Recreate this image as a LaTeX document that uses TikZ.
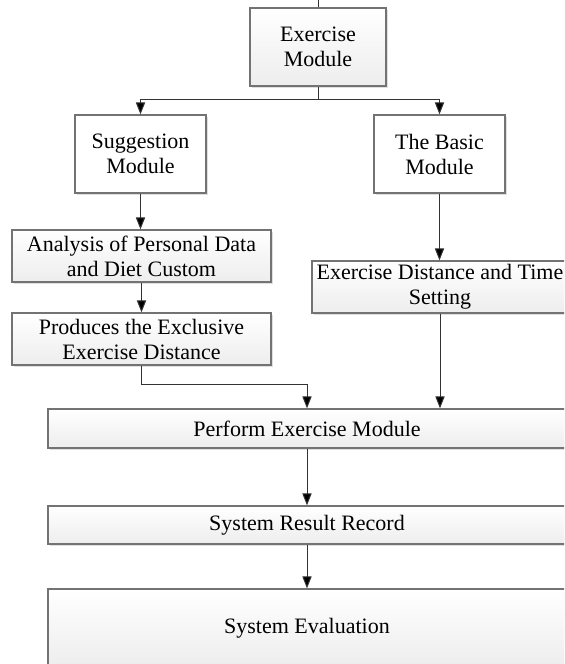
\documentclass[tikz,border=0pt]{standalone}
\usepackage{fontspec}
\setmainfont{Liberation Serif}
\usepackage{tikz}
\usetikzlibrary{arrows.meta,positioning,shadows}

\begin{document}
\begin{tikzpicture}[
    x=0.5pt, y=-0.5pt,
    modbox/.style={rectangle, draw=black!55, line width=0.6pt, inner sep=0pt, align=center,
      top color=white, bottom color=black!7,
      drop shadow={shadow xshift=1pt, shadow yshift=-1pt, opacity=0.25, fill=black!50},
      font=\fontsize{11pt}{12.5pt}\selectfont},
    plainbox/.style={modbox, top color=white, bottom color=white},
    line/.style={-{Triangle[length=6pt, width=4.6pt, fill=black]}, line width=0.5pt, black!80},
    conn/.style={line width=0.5pt, black!80},
  ]
  \useasboundingbox (0,0) rectangle (564,664);
  \clip (0,0) rectangle (564,664);
  % top row
  \node[modbox, minimum width=68pt, minimum height=39pt] (exer) at (318,47) {Exercise\\Module};
  \node[plainbox, minimum width=65.5pt, minimum height=39pt] (sugg) at (140.5,154) {Suggestion\\Module};
  \node[plainbox, minimum width=65.5pt, minimum height=39pt] (basic) at (439.5,154) {The Basic\\Module};
  % left column
  \node[modbox, minimum width=129.5pt, minimum height=26pt] (anal) at (141.5,256) {Analysis of Personal Data\\and Diet Custom};
  \node[modbox, minimum width=129.5pt, minimum height=26pt] (prod) at (141.5,339) {Produces the Exclusive\\Exercise Distance};
  % right column
  \node[modbox, minimum width=128pt, minimum height=26pt] (dist) at (440,287) {Exercise Distance and Time\\Setting};
  % bottom rows
  \node[modbox, minimum width=259pt, minimum height=19.5pt] (perf) at (307,428.5) {Perform Exercise Module};
  \node[modbox, minimum width=259pt, minimum height=19pt] (rec) at (307,525) {System Result Record};
  \node[modbox, minimum width=259pt, minimum height=39pt] (eval) at (307,628) {System Evaluation};

  \coordinate (top) at (318,0);
  \coordinate (split) at (318,99);
  \coordinate (bend) at (307,384);

  \draw[conn] (top) -- (exer.north);
  \draw[conn] (exer.south) -- (split);
  \draw[line] (split) -| (sugg.north);
  \draw[line] (split) -| (basic.north);
  \draw[line] (sugg.south) -- (sugg.south |- anal.north);
  \draw[line] (anal.south) -- (anal.south |- prod.north);
  \draw[line] (prod.south) |- (bend) -- (perf.north);
  \draw[line] (basic.south) -- (basic.south |- dist.north);
  \draw[line] (dist.south) -- (dist.south |- perf.north);
  \draw[line] (perf.south) -- (rec.north);
  \draw[line] (rec.south) -- (eval.north);
\end{tikzpicture}
\end{document}
